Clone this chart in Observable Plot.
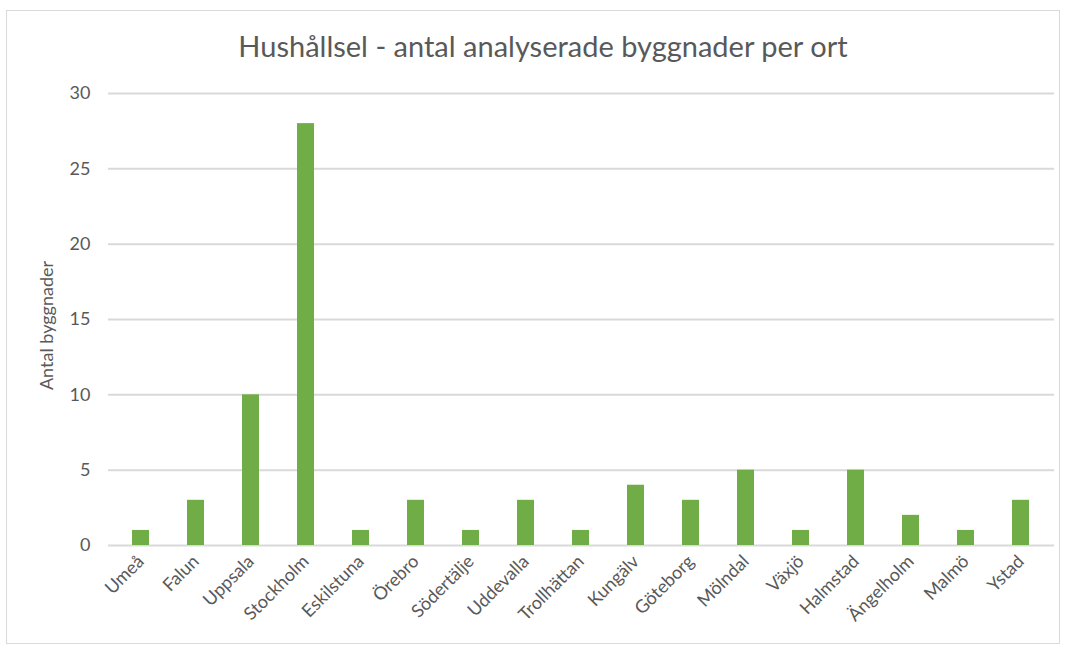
<!DOCTYPE html>
<html>
<head>
<meta charset="utf-8">
<script src="https://cdn.jsdelivr.net/npm/d3@7"></script>
<script src="https://cdn.jsdelivr.net/npm/@observablehq/plot@0.6"></script>
<style>
  html, body { margin: 0; padding: 0; background: #fff; }
  #wrap { position: relative; width: 1067px; height: 648px; overflow: hidden; }
  #frame { position: absolute; left: 6px; top: 10px; width: 1054px; height: 634px; border: 1.5px solid #d9d9d9; box-sizing: border-box; }
  #title { position: absolute; left: 0; width: 1086px; top: 31px; line-height: 1; text-align: center; font-family: Lato, sans-serif; font-size: 29px; color: #595959; }
  #chart { position: absolute; left: 0; top: 0; }
</style>
</head>
<body>
<div id="wrap">
  <div id="frame"></div>
  <div id="chart"></div>
  <div id="title">Hushållsel - antal analyserade byggnader per ort</div>
</div>
<script>
const cities = ["Umeå","Falun","Uppsala","Stockholm","Eskilstuna","Örebro","Södertälje","Uddevalla","Trollhättan","Kungälv","Göteborg","Mölndal","Växjö","Halmstad","Ängelholm","Malmö","Ystad"];
const counts = [1,3,10,28,1,3,1,3,1,4,3,5,1,5,2,1,3];
const yTicks = [0,5,10,15,20,25,30];

const data = cities.map((c, i) => ({city: c, n: counts[i]}));

const chart = Plot.plot({
  width: 1067,
  height: 648,
  marginLeft: 108,
  marginRight: 13,
  marginTop: 93,
  marginBottom: 103,
  style: {fontFamily: "Lato, sans-serif", fontSize: "18px", color: "#595959", background: "transparent"},
  x: {domain: cities, paddingInner: 0.69, paddingOuter: 0.345, label: null},
  y: {domain: [0, 30], ticks: yTicks, label: null},
  marks: [
    Plot.gridY(yTicks, {stroke: "#d9d9d9", strokeOpacity: 1, strokeWidth: 2}),
    Plot.axisY(yTicks, {tickSize: 0, tickPadding: 18, fontSize: 18, label: null}),
    Plot.axisX({tickSize: 0, tickPadding: 13, tickRotate: -45, fontSize: 18, label: null}),
    Plot.barY(data, {x: "city", y: "n", fill: "#70ad47"}),
    Plot.text(["Antal byggnader"], {frameAnchor: "left", textAnchor: "middle", dx: -61, dy: 6, rotate: -90, fontSize: 18, fill: "#595959"})
  ]
});
document.getElementById("chart").appendChild(chart);
</script>
</body>
</html>
